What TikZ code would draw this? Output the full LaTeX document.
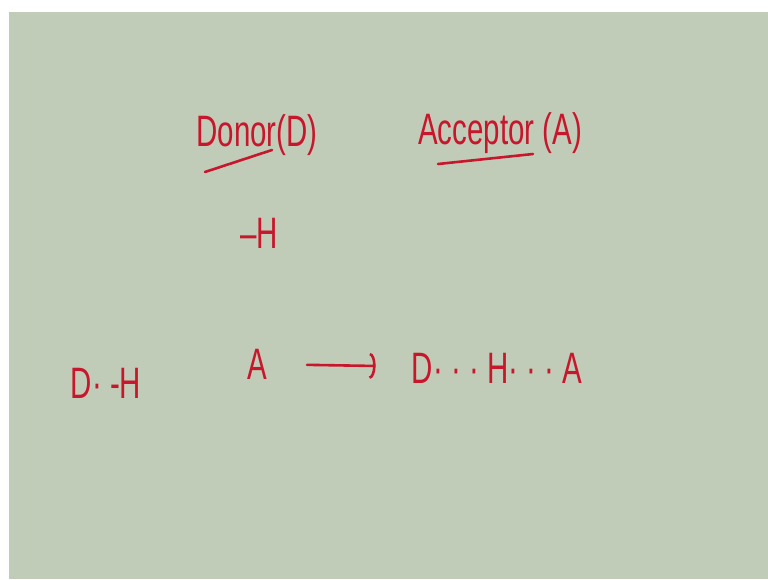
\documentclass[tikz,border=0pt]{standalone}
\usepackage{fontspec}
\usepackage{graphicx}
\setmainfont{Liberation Sans}
\usetikzlibrary{arrows.meta}
\definecolor{board}{RGB}{192,204,183}
\definecolor{ink}{RGB}{200,22,44}
\newcommand{\handtext}[1]{\scalebox{0.67}[1]{#1}}

\begin{document}
\begin{tikzpicture}[x=1pt,y=-1pt,
    hand/.style={text=ink,font=\fontsize{44}{44}\selectfont,inner sep=0pt},
    stroke/.style={draw=ink,line width=2.6pt,line cap=round}
]
\useasboundingbox (0,0) rectangle (768,579);
\fill[white] (0,0) rectangle (768,579);
\fill[board] (9,12) rectangle (768,579);

\node[hand] (Donor)    at (257,135) {\handtext{Donor(D)}};
\node[hand] (Acceptor) at (500,133) {\handtext{Acceptor (A)}};
\node[hand] (H)        at (259,233) {\handtext{–H}};
\node[hand] (DH)       at (106,383) {\handtext{D· -H}};
\node[hand] (A)        at (257,364) {\handtext{A}};
\node[hand] (DHA)      at (497,368) {\handtext{D· · · H· · · A}};

% underlines
\draw[stroke] (205,172) -- (272,150);
\draw[stroke] (438,164) -- (533,154);

\draw[stroke,shorten <=40pt,shorten >=36pt,-{Arc Barb[length=6pt,width=26pt]}] (A) -- (DHA);
\end{tikzpicture}
\end{document}
